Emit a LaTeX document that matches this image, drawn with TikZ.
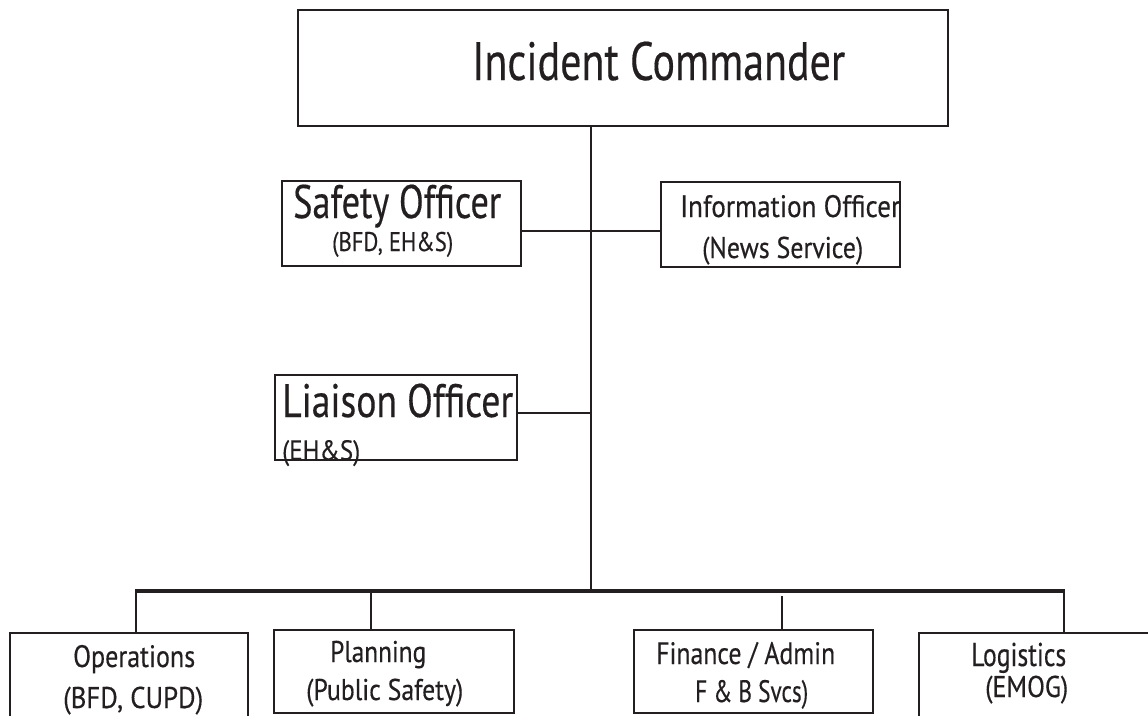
\documentclass[tikz,border=0pt]{standalone}
\usepackage{graphicx}
\usepackage{fontspec}
\setmainfont{PT Sans}[FakeBold=0.35]
\definecolor{ink}{RGB}{35,31,32}
% squeeze a label horizontally to a given width, keeping its height
\newcommand\fitw[2]{\resizebox{#1}{\height}{#2}}
\newcommand\fs[1]{\fontsize{#1}{#1}\selectfont}
\begin{document}
\begin{tikzpicture}[x=1pt,y=-1pt,
  box/.style={draw=ink,line width=2.6pt,rectangle,inner sep=0pt},
  txt/.style={inner sep=0pt,anchor=base west,text=ink},
  link/.style={draw=ink,line width=1.8pt},
  busline/.style={draw=ink,line width=4.6pt}]
\clip (0,0) rectangle (1148,715);
\fill[white] (0,0) rectangle (1148,715);

% boxes
\node[box,minimum width=650pt,minimum height=116pt] (ic) at (623,68) {};
\node[box,minimum width=239pt,minimum height=85pt] (safety) at (401.5,223.5) {};
\node[box,minimum width=239pt,minimum height=85pt] (info) at (780.5,224.5) {};
\node[box,minimum width=242pt,minimum height=85pt] (liaison) at (396,417.5) {};
\node[box,minimum width=238pt,minimum height=87pt] (ops) at (129,676.5) {};
\node[box,minimum width=240pt,minimum height=83pt] (plan) at (394,671.5) {};
\node[box,minimum width=239pt,minimum height=83pt] (fin) at (753.5,671.5) {};
\node[box,minimum width=241pt,minimum height=87pt] (log) at (1039.5,676.5) {};

% labels
\node[txt,font=\fs{54}] (icT) at (472,80) {\fitw{373pt}{Incident Commander}};
\node[txt,font=\fs{47}] (safT) at (293,218) {\fitw{208pt}{Safety Officer}};
\node[txt,font=\fs{27}] (safS) at (332,251) {\fitw{121pt}{(BFD, EH\&S)}};
\node[txt,font=\fs{31}] (infT) at (680,217) {\fitw{220pt}{Information Officer}};
\node[txt,font=\fs{30}] (infS) at (702,258) {\fitw{161pt}{(News Service)}};
\node[txt,font=\fs{47}] (liaT) at (282,417) {\fitw{231pt}{Liaison Officer}};
\node[txt,font=\fs{28}] (liaS) at (282,460) {\fitw{78pt}{(EH\&S)}};
\node[txt,font=\fs{31}] (opsT) at (73,667) {\fitw{122pt}{Operations}};
\node[txt,font=\fs{30}] (opsS) at (63,708) {\fitw{140pt}{(BFD, CUPD)}};
\node[txt,font=\fs{30}] (plaT) at (330,662) {\fitw{96pt}{Planning}};
\node[txt,font=\fs{30}] (plaS) at (306,700) {\fitw{157pt}{(Public Safety)}};
\node[txt,font=\fs{31}] (finT) at (656,664) {\fitw{179pt}{Finance / Admin}};
\node[txt,font=\fs{31}] (finS) at (695,702) {\fitw{113pt}{F \& B Svcs)}};
\node[txt,font=\fs{33}] (logT) at (971,666) {\fitw{95pt}{Logistics}};
\node[txt,font=\fs{30}] (logS) at (985,697) {\fitw{83pt}{(EMOG)}};

% junction points
\coordinate (bus) at (591,591);
\coordinate (sj) at (591,231);
\coordinate (lj) at (591,413);
\coordinate (busL) at (136,591);
\coordinate (busR) at (1064,591);
\coordinate (d2) at (371,591);
\coordinate (d3) at (782,596);

% trunk and staff links
\draw[link] (ic.south -| bus) -- (bus);
\draw[link] (safety.east |- sj) -- (info.west |- sj);
\draw[link] (liaison.east |- lj) -- (lj);

% section bus and drops
\draw[busline] ([xshift=-0.9pt]busL) -- ([xshift=0.9pt]busR);
\draw[link] (busL) -- (ops.north -| busL);
\draw[link] (d2) -- (plan.north -| d2);
\draw[link] (d3) -- (fin.north -| d3);
\draw[link] (busR) -- (log.north -| busR);
\end{tikzpicture}
\end{document}
